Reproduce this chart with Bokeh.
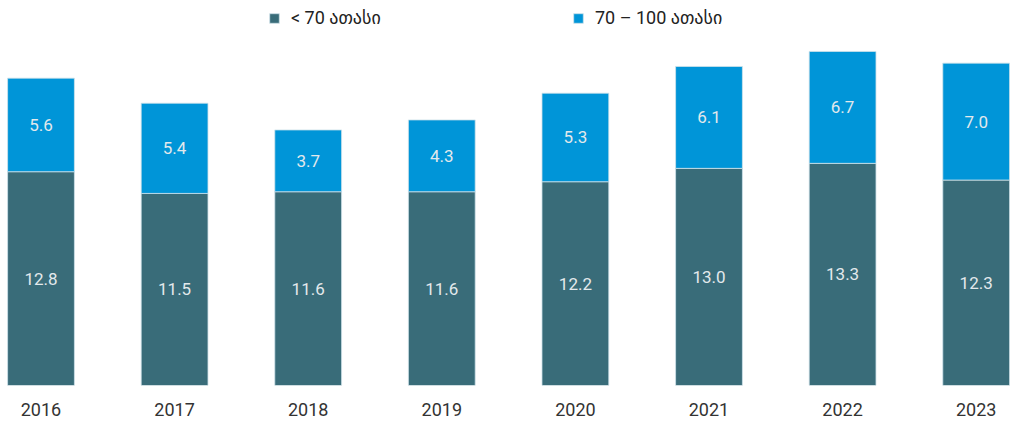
from bokeh.plotting import figure
from bokeh.models import ColumnDataSource, Legend, LegendItem, FixedTicker, Range1d
from bokeh.core.properties import value
from bokeh.embed import file_html
from bokeh.resources import INLINE

years = [2016, 2017, 2018, 2019, 2020, 2021, 2022, 2023]
below_70 = [12.8, 11.5, 11.6, 11.6, 12.2, 13.0, 13.3, 12.3]
from_70_to_100 = [5.6, 5.4, 3.7, 4.3, 5.3, 6.1, 6.7, 7.0]
series_names = ["< 70 ათასი", "70 – 100 ათასი"]
year_labels = [str(y) for y in years]

DARK = "#396c79"
BLUE = "#0095d8"
FONT = "Roboto, 'DejaVu Sans', sans-serif"

src = ColumnDataSource(dict(
    x=years,
    b0=[0] * len(years),
    t1=below_70,
    t2=[a + b for a, b in zip(below_70, from_70_to_100)],
    m1=[v / 2 for v in below_70],
    m2=[a + b / 2 for a, b in zip(below_70, from_70_to_100)],
    l1=["%.1f" % v for v in below_70],
    l2=["%.1f" % v for v in from_70_to_100],
))

W = 1010
p = figure(width=W, height=422, output_backend="svg", toolbar_location=None,
           x_range=Range1d(2016 - 0.3031, 2016 - 0.3031 + W / 133.6), y_range=Range1d(0, 23.05),
           min_border_left=0, min_border_right=0, min_border_top=0, min_border_bottom=37)

r1 = p.vbar(x="x", bottom="b0", top="t1", width=0.5, source=src,
            fill_color=DARK, line_color="#cfe2ea", line_width=0.8)
r2 = p.vbar(x="x", bottom="t1", top="t2", width=0.5, source=src,
            fill_color=BLUE, line_color="#cfe2ea", line_width=0.8)

p.text(x="x", y="m1", text="l1", source=src, text_align="center", text_baseline="middle",
       text_color="#e3e9ec", text_font=value("Roboto"), text_font_size="17px")
p.text(x="x", y="m2", text="l2", source=src, text_align="center", text_baseline="middle",
       text_color="#e3e9ec", text_font=value("Roboto"), text_font_size="17px")

p.yaxis.visible = False
p.xgrid.visible = False
p.ygrid.visible = False
p.outline_line_color = None
p.xaxis.ticker = FixedTicker(ticks=years)
p.xaxis.major_label_overrides = {y: s for y, s in zip(years, year_labels)}
p.xaxis.axis_line_color = None
p.xaxis.major_tick_line_color = None
p.xaxis.minor_tick_line_color = None
p.xaxis.major_tick_out = 0
p.xaxis.major_tick_in = 0
p.xaxis.major_label_standoff = 17
p.xaxis.major_label_text_font = FONT
p.xaxis.major_label_text_font_size = "18px"
p.xaxis.major_label_text_color = "#333333"

for name, rend, loc in [(series_names[0], r1, (268, 357)), (series_names[1], r2, (572, 357))]:
    lg = Legend(items=[LegendItem(label=name, renderers=[rend])], location=loc,
                orientation="horizontal", padding=0, margin=0, spacing=0,
                border_line_alpha=0, background_fill_alpha=0,
                glyph_width=12, glyph_height=12, label_standoff=11, label_height=20,
                label_text_font=FONT, label_text_font_size="18px",
                label_text_color="#222222")
    p.add_layout(lg, "center")

open("out.html", "w").write(file_html(p, INLINE))
